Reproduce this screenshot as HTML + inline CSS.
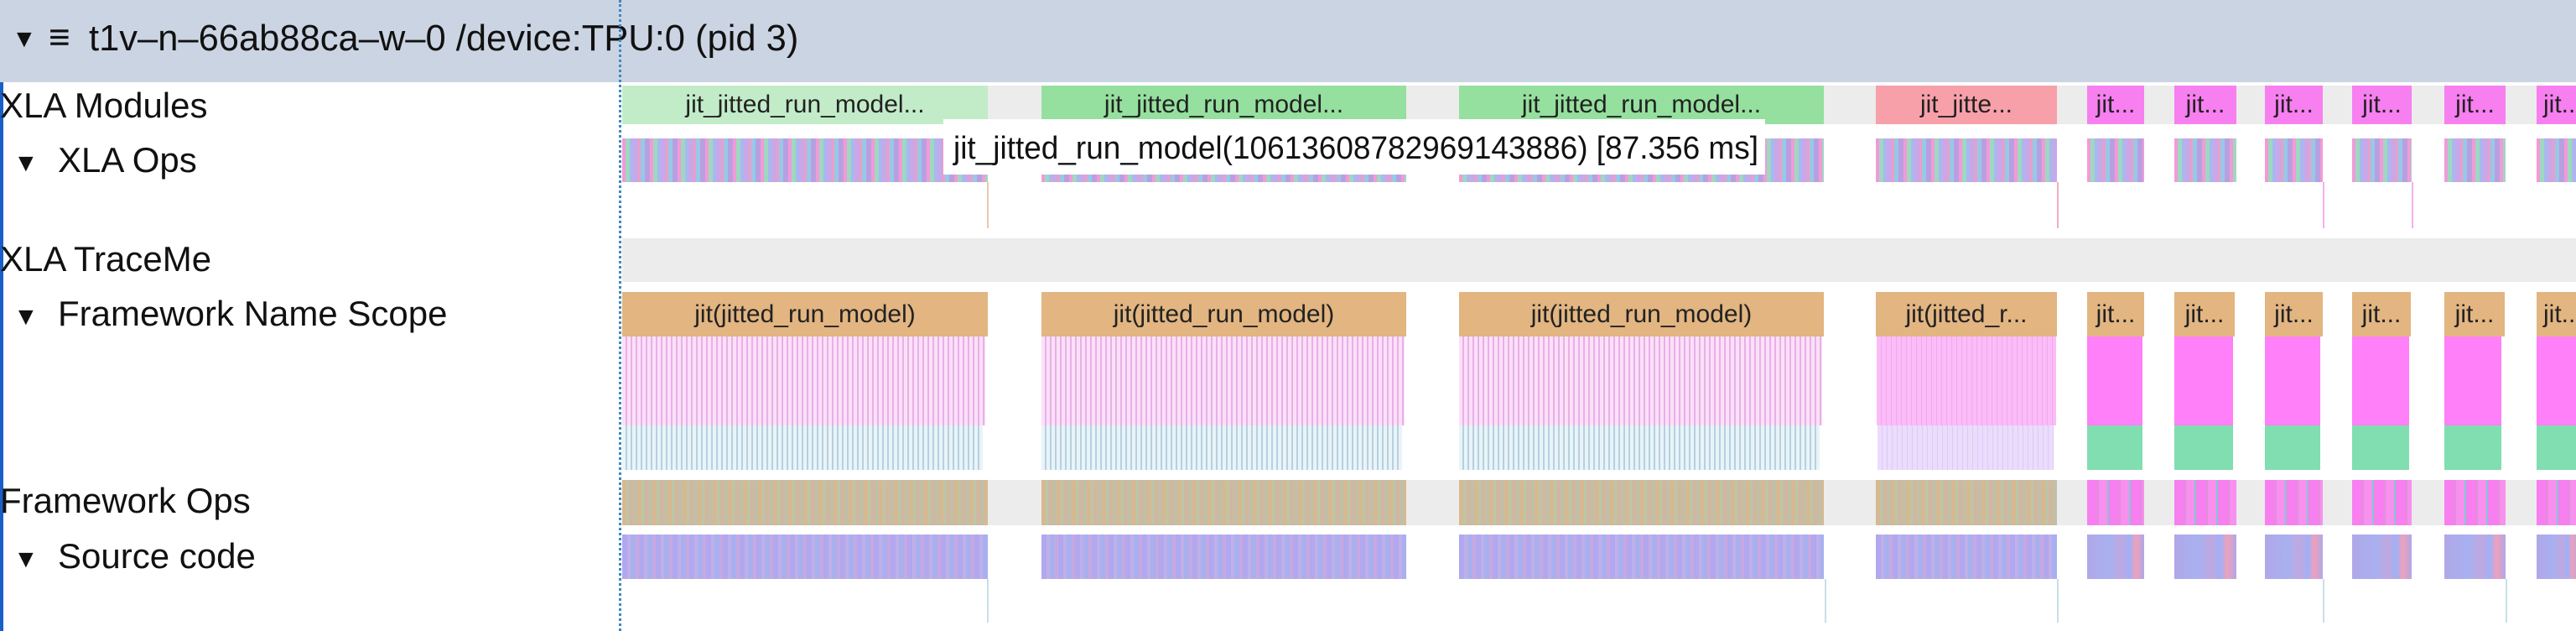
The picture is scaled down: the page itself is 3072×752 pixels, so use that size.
<!DOCTYPE html>
<html><head><meta charset="utf-8"><style>
*{margin:0;padding:0;box-sizing:border-box}
body{width:3072px;height:752px;overflow:hidden;background:#fff;position:relative;font-family:"Liberation Sans",sans-serif;color:#222}
.a{position:absolute}
.hdr{left:0;top:0;width:3072px;height:98px;background:#cbd4e2}
.lbl{position:absolute;font-size:42px;color:#111;white-space:nowrap}
.tri{position:absolute;font-size:30px;color:#111}
.band{position:absolute;left:742px;width:2330px;background:#ececec}
.bar{position:absolute;text-align:center;font-size:30px;line-height:45px;overflow:hidden;white-space:nowrap;color:#222}
.ops{background:repeating-linear-gradient(90deg,#f29ad8 0 4px,#9ed8c0 4px 9px,#a8b8f0 9px 13px,#c8a8e8 13px 19px,#e8a0c8 19px 22px,#98c8e8 22px 27px,#b8a0e0 27px 33px)}
.pk{background:repeating-linear-gradient(90deg,#fbe0f8 0 4px,#e8b0e8 4px 6px)}
.lb{background:repeating-linear-gradient(90deg,#e8f4f8 0 4px,#b8d0e0 4px 6px)}
.fo{background:repeating-linear-gradient(90deg,#d8b890 0 5px,#b8c8a8 5px 8px,#d0b8a0 8px 14px,#c0c0a8 14px 18px)}
.sc{background:repeating-linear-gradient(90deg,#b0a8f0 0 6px,#c0b0e8 6px 10px,#a8b0f0 10px 16px,#c8a8e0 16px 20px)}
.fo2{background:repeating-linear-gradient(90deg,#f77ff0 0 12px,#e090d8 12px 14px,#f890f0 14px 24px,#80c8d0 24px 26px)}
.sc2{background:linear-gradient(90deg,#b0a8e8 0%,#a8b0f0 40%,#c0a8e0 60%,#a0b0f8 75%,#f0a0b8 85%,#b0a8e8 100%)}
.vl{position:absolute;width:2px;background:#c8e0e8}
</style></head><body>
<div class="a hdr"></div>
<div class="tri" style="left:14px;top:30px">▼</div>
<div class="lbl" style="left:58px;top:20px;font-size:44px">≡</div>
<div class="lbl" style="left:106px;top:22px;font-size:43.5px;">t1v–n–66ab88ca–w–0 /device:TPU:0 (pid 3)</div>
<div class="a" style="left:0;top:98px;width:4px;height:654px;background:#1a5fc8"></div>
<div class="lbl" style="left:0;top:102px">XLA Modules</div>
<div class="tri" style="left:16px;top:178px">▼</div>
<div class="lbl" style="left:69px;top:167px">XLA Ops</div>
<div class="lbl" style="left:0;top:285px">XLA TraceMe</div>
<div class="tri" style="left:16px;top:361px">▼</div>
<div class="lbl" style="left:69px;top:350px">Framework Name Scope</div>
<div class="lbl" style="left:0;top:573px">Framework Ops</div>
<div class="tri" style="left:16px;top:650px">▼</div>
<div class="lbl" style="left:69px;top:639px">Source code</div>

<div class="band" style="top:102px;height:46px"></div>
<div class="band" style="top:284px;height:52px"></div>
<div class="band" style="top:572px;height:54px"></div>

<div class="bar" style="left:742px;top:102px;width:436px;height:46px;background:#c2ecc8">jit_jitted_run_model...</div>
<div class="bar" style="left:1242px;top:102px;width:435px;height:46px;background:#95e09e">jit_jitted_run_model...</div>
<div class="bar" style="left:1740px;top:102px;width:435px;height:46px;background:#95e09e">jit_jitted_run_model...</div>
<div class="bar" style="left:2237px;top:102px;width:216px;height:46px;background:#f8a0aa">jit_jitte...</div>

<div class="a ops" style="left:742px;top:165px;width:436px;height:52px"></div>
<div class="a ops" style="left:1242px;top:165px;width:435px;height:52px"></div>
<div class="a ops" style="left:1740px;top:165px;width:435px;height:52px"></div>
<div class="a ops" style="left:2237px;top:165px;width:216px;height:52px"></div>

<div class="bar" style="left:742px;top:348px;width:436px;height:53px;line-height:53px;background:#e2b581">jit(jitted_run_model)</div>
<div class="bar" style="left:1242px;top:348px;width:435px;height:53px;line-height:53px;background:#e2b581">jit(jitted_run_model)</div>
<div class="bar" style="left:1740px;top:348px;width:435px;height:53px;line-height:53px;background:#e2b581">jit(jitted_run_model)</div>
<div class="bar" style="left:2237px;top:348px;width:216px;height:53px;line-height:53px;background:#e2b581">jit(jitted_r...</div>

<div class="a pk" style="left:742px;top:401px;width:433px;height:106px"></div>
<div class="a pk" style="left:1242px;top:401px;width:433px;height:106px"></div>
<div class="a pk" style="left:1740px;top:401px;width:433px;height:106px"></div>
<div class="a" style="left:2238px;top:401px;width:214px;height:106px;background:repeating-linear-gradient(90deg,#fbbcf8 0 5px,#f0a8f0 5px 6px)"></div>
<div class="a lb" style="left:742px;top:507px;width:430px;height:53px"></div>
<div class="a lb" style="left:1242px;top:507px;width:430px;height:53px"></div>
<div class="a lb" style="left:1740px;top:507px;width:430px;height:53px"></div>
<div class="a" style="left:2239px;top:507px;width:210px;height:53px;background:repeating-linear-gradient(90deg,#ecdcfc 0 5px,#dccaf4 5px 6px)"></div>

<div class="a fo" style="left:742px;top:572px;width:436px;height:54px"></div>
<div class="a fo" style="left:1242px;top:572px;width:435px;height:54px"></div>
<div class="a fo" style="left:1740px;top:572px;width:435px;height:54px"></div>
<div class="a fo" style="left:2237px;top:572px;width:216px;height:54px"></div>

<div class="a sc" style="left:742px;top:637px;width:436px;height:53px"></div>
<div class="a sc" style="left:1242px;top:637px;width:435px;height:53px"></div>
<div class="a sc" style="left:1740px;top:637px;width:435px;height:53px"></div>
<div class="a sc" style="left:2237px;top:637px;width:216px;height:53px"></div>

<div class="bar" style="left:2489px;top:102px;width:68px;height:46px;background:#f77ff0">jit...</div>
<div class="bar" style="left:2593px;top:102px;width:74px;height:46px;background:#f77ff0">jit...</div>
<div class="bar" style="left:2701px;top:102px;width:69px;height:46px;background:#f77ff0">jit...</div>
<div class="bar" style="left:2805px;top:102px;width:71px;height:46px;background:#f77ff0">jit...</div>
<div class="bar" style="left:2915px;top:102px;width:73px;height:46px;background:#f77ff0">jit...</div>
<div class="bar" style="left:3025px;top:102px;width:60px;height:46px;background:#f77ff0;text-align:left;padding-left:8px">jit...</div>

<div class="a ops" style="left:2489px;top:165px;width:68px;height:52px"></div>
<div class="a ops" style="left:2593px;top:165px;width:74px;height:52px"></div>
<div class="a ops" style="left:2701px;top:165px;width:69px;height:52px"></div>
<div class="a ops" style="left:2805px;top:165px;width:71px;height:52px"></div>
<div class="a ops" style="left:2915px;top:165px;width:73px;height:52px"></div>
<div class="a ops" style="left:3025px;top:165px;width:50px;height:52px"></div>

<div class="bar" style="left:2489px;top:348px;width:68px;height:53px;line-height:53px;background:#e2b581">jit...</div>
<div class="bar" style="left:2593px;top:348px;width:72px;height:53px;line-height:53px;background:#e2b581">jit...</div>
<div class="bar" style="left:2701px;top:348px;width:69px;height:53px;line-height:53px;background:#e2b581">jit...</div>
<div class="bar" style="left:2805px;top:348px;width:70px;height:53px;line-height:53px;background:#e2b581">jit...</div>
<div class="bar" style="left:2915px;top:348px;width:72px;height:53px;line-height:53px;background:#e2b581">jit...</div>
<div class="bar" style="left:3025px;top:348px;width:60px;height:53px;line-height:53px;background:#e2b581;text-align:left;padding-left:8px">jit...</div>

<div class="a" style="left:2489px;top:401px;width:66px;height:106px;background:#ff80f8"></div>
<div class="a" style="left:2593px;top:401px;width:70px;height:106px;background:#ff80f8"></div>
<div class="a" style="left:2701px;top:401px;width:66px;height:106px;background:#ff80f8"></div>
<div class="a" style="left:2805px;top:401px;width:68px;height:106px;background:#ff80f8"></div>
<div class="a" style="left:2915px;top:401px;width:68px;height:106px;background:#ff80f8"></div>
<div class="a" style="left:3025px;top:401px;width:50px;height:106px;background:#ff80f8"></div>
<div class="a" style="left:2489px;top:507px;width:66px;height:53px;background:#80deb0"></div>
<div class="a" style="left:2593px;top:507px;width:70px;height:53px;background:#80deb0"></div>
<div class="a" style="left:2701px;top:507px;width:66px;height:53px;background:#80deb0"></div>
<div class="a" style="left:2805px;top:507px;width:68px;height:53px;background:#80deb0"></div>
<div class="a" style="left:2915px;top:507px;width:68px;height:53px;background:#80deb0"></div>
<div class="a" style="left:3025px;top:507px;width:50px;height:53px;background:#80deb0"></div>

<div class="a fo2" style="left:2489px;top:572px;width:68px;height:54px"></div>
<div class="a fo2" style="left:2593px;top:572px;width:74px;height:54px"></div>
<div class="a fo2" style="left:2701px;top:572px;width:69px;height:54px"></div>
<div class="a fo2" style="left:2805px;top:572px;width:71px;height:54px"></div>
<div class="a fo2" style="left:2915px;top:572px;width:73px;height:54px"></div>
<div class="a fo2" style="left:3025px;top:572px;width:50px;height:54px"></div>

<div class="a sc2" style="left:2489px;top:637px;width:68px;height:53px"></div>
<div class="a sc2" style="left:2593px;top:637px;width:74px;height:53px"></div>
<div class="a sc2" style="left:2701px;top:637px;width:69px;height:53px"></div>
<div class="a sc2" style="left:2805px;top:637px;width:71px;height:53px"></div>
<div class="a sc2" style="left:2915px;top:637px;width:73px;height:53px"></div>
<div class="a sc2" style="left:3025px;top:637px;width:50px;height:53px"></div>

<div class="vl" style="left:1177px;top:690px;height:52px"></div>
<div class="vl" style="left:2176px;top:690px;height:52px"></div>
<div class="vl" style="left:2453px;top:690px;height:52px"></div>
<div class="vl" style="left:2770px;top:690px;height:52px"></div>
<div class="vl" style="left:2988px;top:690px;height:52px"></div>
<div class="a" style="left:1177px;top:217px;width:2px;height:55px;background:#e8c8b0"></div>
<div class="a" style="left:2453px;top:217px;width:2px;height:55px;background:#f0b0c0"></div>
<div class="a" style="left:2770px;top:217px;width:2px;height:55px;background:#f0b0f0"></div>
<div class="a" style="left:2876px;top:217px;width:2px;height:55px;background:#f0b0f0"></div>

<div class="a" style="left:738px;top:0;width:0;height:752px;border-left:3px dotted #3a8ac0"></div>

<div class="a" style="left:1125px;top:142px;width:980px;height:66px;background:#fff"></div>
<svg class="a" style="left:1125px;top:142px" width="980" height="66"><text x="12" y="47" font-family="Liberation Sans, sans-serif" font-size="38" fill="#111" textLength="960" lengthAdjust="spacingAndGlyphs">jit_jitted_run_model(10613608782969143886) [87.356 ms]</text></svg>
</body></html>
